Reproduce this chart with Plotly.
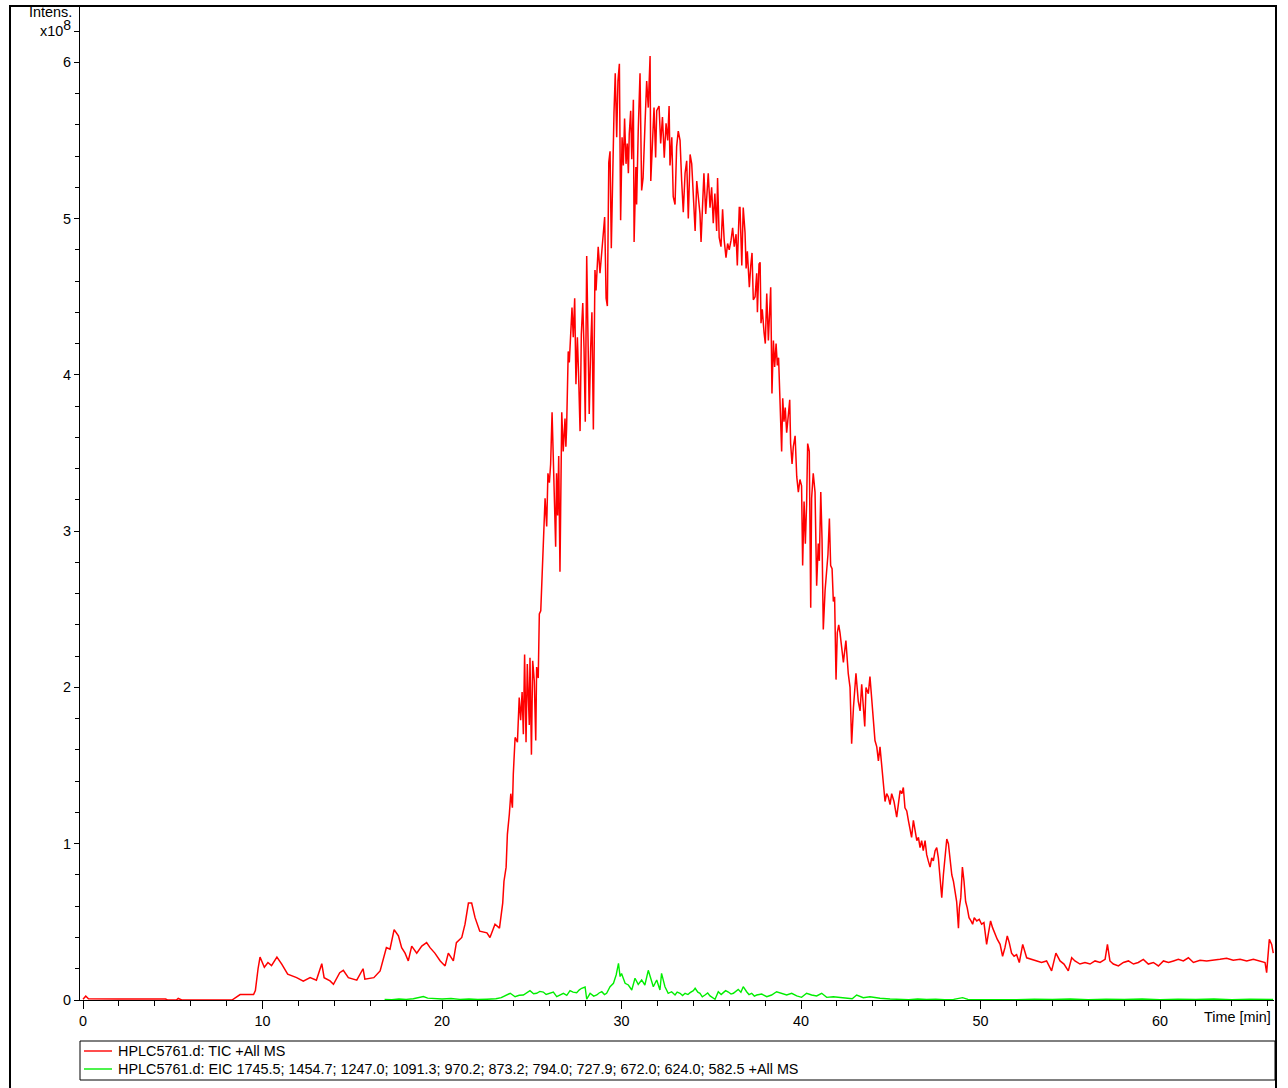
import plotly.graph_objects as go

# ---------------- data (time in min, intensity in units of 1e8) ----------------
tic_time = [
    0.0, 0.15, 0.3, 1.0, 2.0, 3.0, 4.0, 4.6, 4.7, 5.2, 5.3, 5.5, 8.3, 8.75, 9.5, 9.6, 9.75, 9.86,
    10.1, 10.3, 10.5, 10.8, 11.07, 11.4, 11.9, 12.27, 12.65, 13.0, 13.3, 13.43, 13.76, 13.95,
    14.3, 14.5, 14.78, 15.25, 15.6, 15.7, 16.2, 16.55, 16.9, 17.1, 17.33, 17.57, 17.75, 17.94,
    18.12, 18.31, 18.59, 18.87, 19.14, 19.33, 19.6, 19.9, 20.17, 20.35, 20.63, 20.8, 21.1,
    21.28, 21.47, 21.65, 21.84, 22.1, 22.5, 22.67, 22.95, 23.2, 23.38, 23.45, 23.57, 23.64,
    23.75, 23.83, 23.92, 23.97, 24.07, 24.2, 24.3, 24.38, 24.46, 24.53, 24.6, 24.68, 24.75,
    24.86, 24.9, 24.98, 25.05, 25.14, 25.22, 25.27, 25.36, 25.42, 25.5, 25.6, 25.68, 25.74,
    25.83, 25.9, 25.98, 26.05, 26.13, 26.24, 26.33, 26.38, 26.44, 26.5, 26.57, 26.67, 26.75,
    26.85, 26.9, 26.94, 27.03, 27.09, 27.16, 27.24, 27.31, 27.39, 27.46, 27.54, 27.61, 27.69,
    27.76, 27.84, 27.91, 27.98, 28.06, 28.13, 28.2, 28.28, 28.35, 28.43, 28.52, 28.58, 28.7,
    28.8, 28.87, 28.98, 29.06, 29.14, 29.21, 29.29, 29.36, 29.43, 29.51, 29.58, 29.65, 29.73,
    29.8, 29.88, 29.95, 30.03, 30.1, 30.17, 30.25, 30.32, 30.38, 30.43, 30.51, 30.57, 30.66,
    30.7, 30.8, 30.84, 30.93, 31.03, 31.12, 31.2, 31.3, 31.4, 31.49, 31.59, 31.63, 31.72,
    31.81, 31.9, 31.96, 32.09, 32.18, 32.28, 32.38, 32.48, 32.57, 32.65, 32.7, 32.8, 32.88,
    32.98, 33.07, 33.16, 33.26, 33.35, 33.44, 33.54, 33.63, 33.72, 33.82, 33.91, 34.0, 34.1,
    34.19, 34.28, 34.37, 34.43, 34.52, 34.59, 34.69, 34.78, 34.83, 34.93, 35.02, 35.11, 35.2,
    35.3, 35.35, 35.44, 35.54, 35.63, 35.72, 35.82, 35.91, 36.0, 36.1, 36.19, 36.28, 36.38,
    36.45, 36.56, 36.6, 36.7, 36.78, 36.88, 36.94, 37.01, 37.12, 37.2, 37.27, 37.34, 37.44,
    37.53, 37.57, 37.66, 37.72, 37.77, 37.84, 37.94, 38.01, 38.09, 38.18, 38.31, 38.38, 38.46,
    38.53, 38.61, 38.68, 38.75, 38.83, 38.92, 38.98, 39.05, 39.12, 39.2, 39.29, 39.37, 39.42,
    39.5, 39.57, 39.67, 39.76, 39.85, 39.94, 40.03, 40.09, 40.17, 40.24, 40.31, 40.37, 40.46,
    40.54, 40.59, 40.68, 40.78, 40.87, 40.96, 41.02, 41.1, 41.17, 41.24, 41.34, 41.43, 41.5,
    41.58, 41.65, 41.73, 41.8, 41.87, 41.95, 42.02, 42.1, 42.17, 42.26, 42.36, 42.5, 42.63,
    42.73, 42.82, 42.92, 43.01, 43.06, 43.19, 43.29, 43.38, 43.47, 43.55, 43.62, 43.75, 43.84,
    43.94, 44.03, 44.12, 44.22, 44.31, 44.4, 44.49, 44.58, 44.68, 44.77, 44.86, 44.96, 45.05,
    45.18, 45.33, 45.42, 45.52, 45.61, 45.7, 45.79, 45.89, 45.98, 46.07, 46.16, 46.26, 46.35,
    46.45, 46.54, 46.63, 46.72, 46.81, 46.91, 47.0, 47.09, 47.19, 47.28, 47.37, 47.47, 47.56,
    47.65, 47.74, 47.84, 47.93, 48.02, 48.12, 48.21, 48.3, 48.4, 48.49, 48.58, 48.67, 48.77,
    48.82, 48.9, 48.99, 49.08, 49.17, 49.26, 49.36, 49.47, 49.56, 49.65, 49.79, 49.93, 50.06,
    50.19, 50.34, 50.43, 50.56, 50.67, 50.8, 50.93, 51.09, 51.23, 51.36, 51.49, 51.6, 51.73,
    51.87, 52.01, 52.16, 52.35, 52.57, 52.85, 53.13, 53.4, 53.68, 53.96, 54.2, 54.43, 54.65,
    54.89, 55.08, 55.26, 55.54, 55.82, 56.1, 56.38, 56.66, 56.94, 57.07, 57.21, 57.4, 57.68,
    57.96, 58.24, 58.52, 58.79, 59.07, 59.35, 59.63, 59.91, 60.19, 60.47, 60.75, 61.02, 61.3,
    61.58, 61.86, 62.23, 62.6, 62.97, 63.34, 63.71, 64.08, 64.46, 64.83, 65.2, 65.57, 65.85,
    65.94, 66.09, 66.22, 66.31,
]
tic_intens = [
    0.005, 0.025, 0.008, 0.006, 0.007, 0.006, 0.007, 0.006, 0.0, 0.0, 0.01, 0.0, 0.0, 0.035, 0.035, 0.06, 0.2, 0.275,
    0.21, 0.24, 0.22, 0.275, 0.23, 0.165, 0.143, 0.12, 0.143, 0.127, 0.232, 0.143, 0.122, 0.10,
    0.175, 0.19, 0.143, 0.127, 0.2, 0.133, 0.143, 0.186, 0.335, 0.325, 0.45, 0.41, 0.335, 0.30,
    0.25, 0.345, 0.30, 0.345, 0.367, 0.335, 0.30, 0.25, 0.218, 0.30, 0.25, 0.367, 0.40,
    0.485, 0.62, 0.62, 0.527, 0.44, 0.43, 0.40, 0.485, 0.46, 0.62, 0.76, 0.85, 1.06,
    1.19, 1.32, 1.23, 1.445, 1.68, 1.65, 1.935, 1.79, 1.97, 1.70, 2.21, 1.65, 2.15,
    1.76, 2.19, 1.57, 2.17, 2.04, 1.66, 2.13, 2.06, 2.47, 2.49, 2.80, 2.97, 3.21,
    3.03, 3.37, 3.31, 3.43, 3.76, 3.24, 2.90, 3.37, 3.10, 3.48, 2.74, 3.76, 3.51,
    3.72, 3.54, 3.66, 4.15, 4.08, 4.29, 4.43, 4.24, 4.49, 3.94, 4.24, 3.99, 3.64,
    4.26, 4.46, 4.17, 3.70, 4.76, 4.31, 3.75, 4.17, 4.40, 3.65, 4.67, 4.54, 4.82,
    4.65, 4.75, 4.87, 5.01, 4.49, 4.44, 5.36, 5.43, 4.81, 5.33, 5.68, 5.93, 5.52,
    5.88, 5.99, 4.99, 5.52, 5.34, 5.64, 5.35, 5.48, 5.29, 5.54, 5.69, 5.38, 5.76,
    4.85, 5.33, 5.09, 5.56, 5.93, 5.18, 5.26, 5.58, 5.88, 5.71, 6.04, 5.24, 5.54,
    5.71, 5.39, 5.69, 5.72, 5.48, 5.65, 5.39, 5.61, 5.50, 5.72, 5.34, 5.52, 5.14,
    5.09, 5.46, 5.56, 5.50, 5.24, 5.04, 5.29, 5.37, 5.00, 5.41, 5.35, 5.18, 4.92,
    5.24, 5.14, 5.03, 4.85, 5.16, 5.29, 5.03, 5.18, 5.29, 5.07, 5.20, 4.97, 5.16,
    4.92, 5.26, 4.88, 4.82, 5.06, 4.86, 4.75, 4.84, 4.80, 4.86, 4.94, 4.82, 4.90,
    4.70, 5.07, 5.07, 4.70, 5.07, 4.91, 4.68, 4.79, 4.56, 4.70, 4.78, 4.48, 4.50,
    4.65, 4.40, 4.71, 4.72, 4.33, 4.42, 4.27, 4.20, 4.52, 4.22, 4.56, 3.88, 4.22,
    4.05, 4.20, 4.06, 4.11, 3.84, 3.51, 3.85, 3.70, 3.79, 3.63, 3.74, 3.84, 3.56,
    3.43, 3.54, 3.61, 3.35, 3.25, 3.33, 3.29, 2.78, 3.19, 2.92, 3.17, 3.56, 3.51,
    2.51, 3.21, 3.37, 3.25, 2.65, 2.92, 2.81, 3.25, 2.95, 2.37, 2.62, 2.74, 2.85,
    3.08, 2.78, 2.76, 2.55, 2.58, 2.05, 2.35, 2.40, 2.35, 2.24, 2.16, 2.30, 2.09,
    2.00, 1.64, 1.87, 2.02, 2.09, 1.91, 1.85, 2.02, 1.87, 1.75, 2.00, 1.96, 2.07,
    1.91, 1.77, 1.66, 1.62, 1.53, 1.62, 1.51, 1.38, 1.27, 1.32, 1.30, 1.25, 1.32,
    1.27, 1.17, 1.25, 1.34, 1.32, 1.36, 1.23, 1.21, 1.15, 1.10, 1.04, 1.15, 1.08,
    1.02, 1.04, 0.975, 1.02, 0.955, 1.02, 0.93, 0.89, 0.85, 0.91, 0.89, 0.955, 0.975,
    0.91, 0.80, 0.655, 0.80, 0.91, 1.03, 1.00, 0.89, 0.80, 0.76, 0.68, 0.63, 0.46,
    0.59, 0.655, 0.85, 0.76, 0.63, 0.59, 0.527, 0.506, 0.485, 0.527, 0.506, 0.516, 0.485,
    0.495, 0.356, 0.42, 0.506, 0.463, 0.42, 0.389, 0.356, 0.28, 0.335, 0.41, 0.367, 0.30,
    0.28, 0.29, 0.24, 0.356, 0.27, 0.26, 0.25, 0.24, 0.25, 0.186, 0.30, 0.25, 0.23,
    0.186, 0.27, 0.25, 0.23, 0.24, 0.23, 0.25, 0.24, 0.26, 0.356, 0.25, 0.23, 0.218,
    0.24, 0.25, 0.23, 0.24, 0.26, 0.23, 0.24, 0.218, 0.25, 0.24, 0.25, 0.26, 0.25,
    0.27, 0.24, 0.254, 0.25, 0.254, 0.26, 0.267, 0.254, 0.26, 0.25, 0.26, 0.25, 0.24,
    0.175, 0.389, 0.356, 0.30,
]

eic_time = [
    16.8, 17.2, 17.6, 18.0, 18.4, 18.8, 18.96, 19.2, 19.6, 20.0, 20.5, 21.0, 21.5, 22.0, 22.5,
    23.0, 23.3, 23.6, 23.8, 24.07, 24.3, 24.53, 24.7, 24.9, 25.1, 25.27, 25.45, 25.64, 25.8,
    26.0, 26.2, 26.39, 26.6, 26.76, 26.95, 27.13, 27.3, 27.5, 27.65, 27.78, 27.97, 28.06,
    28.25, 28.45, 28.62, 28.75, 28.9, 29.05, 29.17, 29.36, 29.55, 29.7, 29.83, 29.92, 30.0,
    30.1, 30.2, 30.38, 30.57, 30.75, 30.93, 31.12, 31.3, 31.49, 31.62, 31.77, 31.96, 32.14,
    32.23, 32.42, 32.6, 32.79, 32.98, 33.1, 33.26, 33.4, 33.54, 33.7, 33.82, 34.0, 34.1,
    34.25, 34.37, 34.5, 34.65, 34.8, 34.93, 35.21, 35.39, 35.55, 35.67, 35.8, 35.95, 36.1,
    36.23, 36.35, 36.5, 36.65, 36.78, 36.97, 37.1, 37.25, 37.4, 37.53, 37.81, 38.09, 38.36,
    38.64, 38.92, 39.2, 39.48, 39.76, 40.03, 40.31, 40.59, 40.87, 41.15, 41.43, 41.8, 42.17,
    42.54, 42.85, 43.1, 43.47, 43.84, 44.4, 44.96, 45.5, 46.0, 46.5, 47.0, 47.5, 48.0, 48.5,
    49.0, 49.3, 50.0, 51.0, 52.0, 53.0, 54.0, 55.0, 56.0, 57.0, 58.0, 59.0, 60.0, 61.0, 62.0,
    63.0, 64.0, 65.0, 66.0, 66.3,
]
eic_intens = [
    0.004, 0.002, 0.006, 0.004, 0.008, 0.015, 0.022, 0.012, 0.008, 0.006, 0.01, 0.004, 0.006, 0.003, 0.005,
    0.008, 0.015, 0.032, 0.043, 0.021, 0.03, 0.032, 0.045, 0.06, 0.04, 0.043, 0.055, 0.051, 0.035,
    0.043, 0.05, 0.021, 0.035, 0.043, 0.03, 0.06, 0.05, 0.047, 0.065, 0.075, 0.083, 0.005,
    0.043, 0.025, 0.032, 0.045, 0.053, 0.035, 0.043, 0.085, 0.107, 0.16, 0.235, 0.15, 0.17,
    0.13, 0.107, 0.096, 0.064, 0.139, 0.10, 0.128, 0.096, 0.19, 0.139, 0.085, 0.128, 0.064,
    0.17, 0.085, 0.043, 0.053, 0.032, 0.05, 0.043, 0.028, 0.043, 0.035, 0.047, 0.06, 0.075,
    0.05, 0.043, 0.02, 0.032, 0.045, 0.026, 0.005, 0.053, 0.035, 0.047, 0.06, 0.051, 0.038,
    0.043, 0.055, 0.068, 0.05, 0.085, 0.053, 0.035, 0.043, 0.025, 0.032, 0.038, 0.021, 0.032,
    0.053, 0.043, 0.032, 0.043, 0.026, 0.017, 0.043, 0.032, 0.026, 0.043, 0.017, 0.021, 0.017,
    0.015, 0.008, 0.032, 0.015, 0.021, 0.011, 0.006, 0.005, 0.002, 0.006, 0.003, 0.005, 0.002, 0.004,
    0.015, 0.004, 0.003, 0.006, 0.002, 0.005, 0.003, 0.006, 0.002, 0.005, 0.003, 0.006, 0.002, 0.005, 0.003,
    0.006, 0.002, 0.005, 0.004, 0.003,
]

x_tick_vals = [0, 10, 20, 30, 40, 50, 60]
x_tick_text = ["0", "10", "20", "30", "40", "50", "60"]
y_tick_vals = [0, 1, 2, 3, 4, 5, 6, 6.2]
y_tick_text = ["0", "1", "2", "3", "4", "5", "6",
               "x10<sup><span style='font-size:14px'>8</span></sup>"]

tic_name = "HPLC5761.d: TIC +All MS"
eic_name = ("HPLC5761.d: EIC 1745.5; 1454.7; 1247.0; 1091.3; 970.2; 873.2; 794.0; "
            "727.9; 672.0; 624.0; 582.5 +All MS")
tic_color = "#ff0000"
eic_color = "#00ee00"

# ---------------- layout geometry (pixels) ----------------
W, H = 1288, 1088
L, R, T, B = 80, 14, 6, 88
PW, PH = W - L - R, H - T - B


def px(x):
    return (x - L) / PW


def py(y):
    return (H - B - y) / PH


FONT = "Liberation Sans, Arial, sans-serif"
FS = 14.4

fig = go.Figure()
fig.add_trace(go.Scatter(x=eic_time, y=eic_intens, mode="lines", name=eic_name,
                         line=dict(color=eic_color, width=1.4), showlegend=False))
fig.add_trace(go.Scatter(x=tic_time, y=tic_intens, mode="lines", name=tic_name,
                         line=dict(color=tic_color, width=1.5), showlegend=False))

fig.update_layout(
    width=W, height=H,
    margin=dict(l=L, r=R, t=T, b=B, pad=0),
    paper_bgcolor="white", plot_bgcolor="white",
    font=dict(family=FONT, size=FS, color="black"),
    showlegend=False,
    xaxis=dict(range=[-0.17, 66.35], showgrid=False, zeroline=False, showline=True,
               linecolor="black", linewidth=1, ticks="outside", ticklen=8, tickwidth=1,
               tickcolor="black", tickmode="array", tickvals=x_tick_vals, ticktext=x_tick_text,
               minor=dict(ticks="outside", dtick=2, tick0=0, ticklen=5, tickwidth=1,
                          tickcolor="black", showgrid=False)),
    yaxis=dict(range=[0, 6.36], showgrid=False, zeroline=False, showline=True,
               linecolor="black", linewidth=1, ticks="outside", ticklen=5, tickwidth=1,
               tickcolor="black", tickmode="array", tickvals=y_tick_vals, ticktext=y_tick_text,
               minor=dict(ticks="outside", dtick=0.2, tick0=0, ticklen=4, tickwidth=1,
                          tickcolor="black", showgrid=False)),
)

shapes = []
# outer frame
shapes.append(dict(type="rect", xref="paper", yref="paper", x0=px(10), x1=px(1276),
                   y0=py(1095), y1=py(6), line=dict(color="black", width=2), layer="above"))
# legend box
shapes.append(dict(type="rect", xref="paper", yref="paper", x0=px(80), x1=px(1275),
                   y0=py(1080), y1=py(1041), line=dict(color="black", width=1)))
legend_rows = [(tic_name, tic_color, 1051), (eic_name, eic_color, 1069)]
annotations = []
for name, col, yy in legend_rows:
    shapes.append(dict(type="line", xref="paper", yref="paper", x0=px(84), x1=px(112),
                       y0=py(yy), y1=py(yy), line=dict(color=col, width=1.4)))
    annotations.append(dict(xref="paper", yref="paper", x=px(116), y=py(yy), text=name,
                            showarrow=False, xanchor="left", yanchor="middle",
                            font=dict(size=FS)))

annotations.append(dict(xref="paper", yref="paper", x=px(74), y=py(12), text="Intens.",
                        showarrow=False, xanchor="right", yanchor="middle", font=dict(size=FS)))
annotations.append(dict(xref="paper", yref="paper", x=px(1273), y=py(1017), text="Time [min]",
                        showarrow=False, xanchor="right", yanchor="middle", font=dict(size=FS)))

fig.update_layout(shapes=shapes, annotations=annotations)

fig.write_html("out.html", config={"displayModeBar": False},
               post_script="document.body.style.margin='0px';document.body.style.overflow='hidden';")
